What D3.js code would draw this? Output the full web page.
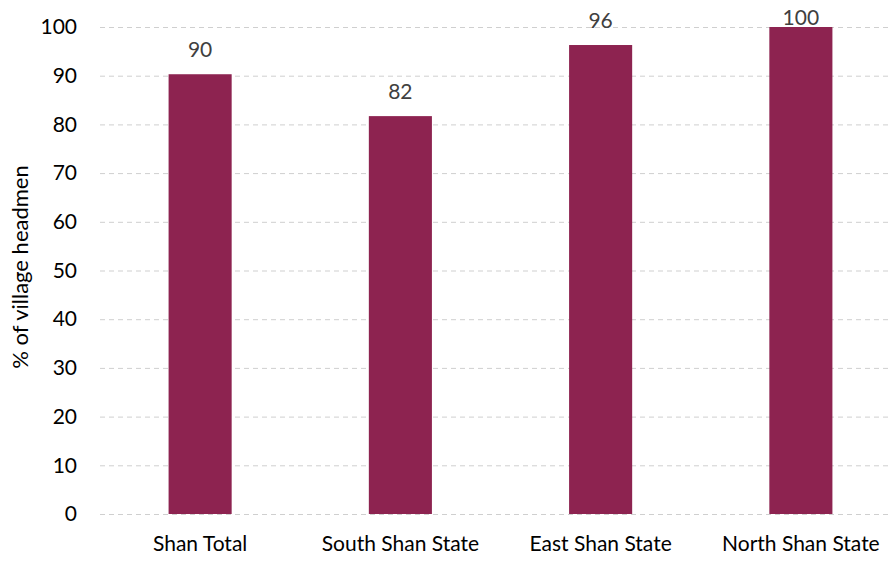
<!DOCTYPE html>
<html><head><meta charset="utf-8">
<script src="https://cdn.jsdelivr.net/npm/d3@7"></script>
<style>body{margin:0;background:#fff}svg{display:block}</style>
</head><body>
<svg id="c" width="891" height="561"></svg>
<script>
const categories = ["Shan Total", "South Shan State", "East Shan State", "North Shan State"];
const values = [90.3, 81.7, 96.3, 100];
const yTicks = [0, 10, 20, 30, 40, 50, 60, 70, 80, 90, 100];
const yTitle = "% of village headmen";

(function () {
const svg = d3.select("#c");
const font = "Lato, 'Open Sans', sans-serif";
const mLeft = 100, mRight = 901, mTop = 27, mBottom = 514;

const x = d3.scaleBand().domain(categories).range([mLeft, mRight]).padding(0);
const y = d3.scaleLinear().domain([0, 100]).range([mBottom, mTop]);
const bw = x.bandwidth() * 0.315;

// gridlines
svg.append("g").selectAll("line").data(yTicks).join("line")
  .attr("x1", mLeft).attr("x2", 891)
  .attr("y1", d => y(d) + 0.5).attr("y2", d => y(d) + 0.5)
  .attr("stroke", "#cfcfcf").attr("stroke-width", 1).attr("stroke-dasharray", "5,4");

// y axis
const ya = svg.append("g").attr("transform", `translate(${mLeft},0)`)
  .call(d3.axisLeft(y).tickValues(yTicks).tickSize(0).tickPadding(23));
ya.select(".domain").remove();
ya.selectAll("text").attr("font-family", font).attr("font-size", 21).attr("fill", "#000");

// x axis
const xa = svg.append("g").attr("transform", `translate(0,${mBottom})`)
  .call(d3.axisBottom(x).tickSize(0).tickPadding(22));
xa.select(".domain").remove();
xa.selectAll("text").attr("font-family", font).attr("font-size", 21).attr("fill", "#000");

// bars
svg.append("g").selectAll("rect").data(values).join("rect")
  .attr("x", (d, i) => x(categories[i]) + (x.bandwidth() - bw) / 2)
  .attr("width", bw)
  .attr("y", d => y(d))
  .attr("height", d => y(0) - y(d))
  .attr("fill", "#8d2350");

// value labels
svg.append("g").selectAll("text").data(values).join("text")
  .attr("x", (d, i) => x(categories[i]) + x.bandwidth() / 2)
  .attr("y", d => Math.max(y(d) - 17, 25))
  .attr("text-anchor", "middle")
  .attr("font-family", font).attr("font-size", 21).attr("fill", "#404040")
  .text(d => d3.format(".0f")(d));

// y title
svg.append("text")
  .attr("transform", `translate(28,267) rotate(-90)`)
  .attr("text-anchor", "middle")
  .attr("font-family", font).attr("font-size", 22).attr("fill", "#000")
  .text(yTitle);
})();
</script>
</body></html>
